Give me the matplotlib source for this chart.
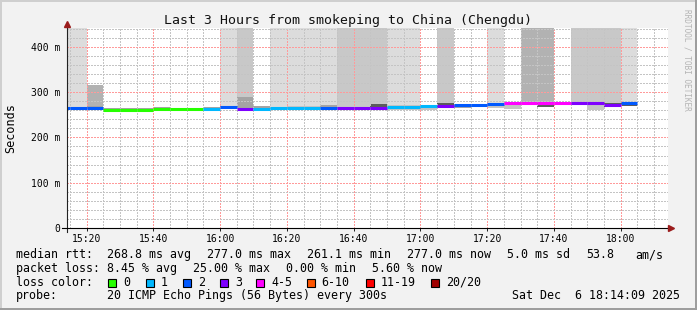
import matplotlib
matplotlib.use("Agg")
import matplotlib.pyplot as plt
from matplotlib.patches import Rectangle
from matplotlib.lines import Line2D
from matplotlib.ticker import MultipleLocator, FuncFormatter

plt.rcParams['font.family'] = ['DejaVu Sans Mono']

W, H = 697, 310

# --- данные: 5-минутные раунды (20 пингов каждый) ---
BIN_START = [
    "15:10", "15:15", "15:20", "15:25", "15:30", "15:35", "15:40", "15:45",
    "15:50", "15:55", "16:00", "16:05", "16:10", "16:15", "16:20", "16:25",
    "16:30", "16:35", "16:40", "16:45", "16:50", "16:55", "17:00", "17:05",
    "17:10", "17:15", "17:20", "17:25", "17:30", "17:35", "17:40", "17:45",
    "17:50", "17:55", "18:00",
]
# median rtt, ms
MEDIAN = [
    264, 264, 264, 261.1, 261.5, 261.5, 263.5, 263.5,
    263.5, 263.5, 266.5, 263.5, 263.5, 264, 264.5, 264.5,
    265, 264.5, 264.5, 265, 267, 268, 269, 269,
    270.5, 271.5, 273, 276, 276, 276, 276, 276.5,
    276.5, 271, 277,
]
# index into LOSS_LABELS (number of lost pings)
LOSS = [
    2, 2, 2, 0, 0, 0, 0, 0,
    0, 1, 2, 3, 1, 1, 1, 1,
    2, 3, 3, 3, 1, 1, 1, 3,
    2, 2, 2, 4, 4, 4, 4, 3,
    3, 3, 2,
]
# narrow smoke around the median, ms
BAND_LO = [
    262, 262, 262, 260, 260, 260, 262, 262,
    262, 262, 264, 262, 262, 262, 263, 263,
    263, 263, 263, 263, 261, 261, 261, 265,
    266, 267, 266, 263, 271, 268, 271, 271,
    261, 268, 270,
]
BAND_HI = [
    268, 268, 269, 266, 265, 265, 267, 266,
    266, 267, 270, 289, 270, 268, 270, 270,
    272, 268, 268, 273, 271, 272, 271, 275,
    274, 274, 276, 277, 278, 279, 278, 278,
    278, 277, 279,
]
BAND_TONE = [
    1, 1, 1, 1, 1, 1, 1, 1,
    1, 1, 1, 1, 1, 0, 0, 0,
    1, 1, 1, 2, 0, 0, 0, 2,
    1, 1, 0, 0, 1, 2, 0, 1,
    0, 2, 2,
]
# upper smoke (max ping), ms; 0 = none
SMOKE_TOP = [
    500, 500, 315, 0, 0, 0, 0, 0,
    0, 0, 500, 500, 0, 500, 500, 500,
    500, 500, 500, 500, 500, 500, 0, 500,
    0, 0, 500, 0, 500, 500, 0, 500,
    500, 500, 500,
]
SMOKE_SHADE = [
    1, 1, 3, 0, 0, 0, 0, 0,
    0, 0, 1, 2, 0, 1, 1, 1,
    1, 2, 2, 2, 1, 1, 0, 2,
    0, 0, 1, 0, 3, 3, 0, 2,
    2, 2, 1,
]
STEP = 5  # min

LOSS_LABELS = ["0", "1", "2", "3", "4-5", "6-10", "11-19", "20/20"]
LOSS_COLORS = ["#26ff00", "#00b8ff", "#0059ff", "#7e00ff",
               "#ff00ff", "#ff5500", "#ff0000", "#a10000"]

RTT_AVG, RTT_MAX, RTT_MIN, RTT_NOW, RTT_SD, AM_S = 268.8, 277.0, 261.1, 277.0, 5.0, 53.8
LOSS_AVG, LOSS_MAX, LOSS_MIN, LOSS_NOW = 8.45, 25.00, 0.00, 5.60

T_START, T_END = "15:14:09", "18:14:09"
TITLE = "Last 3 Hours from smokeping to China (Chengdu)"
PROBE = "20 ICMP Echo Pings (56 Bytes) every 300s"
STAMP = "Sat Dec  6 18:14:09 2025"


def tmin(s):
    p = s.split(":")
    sec = int(p[2]) if len(p) == 3 else 0
    return (int(p[0]) - 15) * 60 + int(p[1]) + sec / 60


def fx(x):
    return x / W


def fy(y):
    return 1 - y / H


SHADES = [None, "#dcdcdc", "#c8c8c8", "#b2b2b2"]
TONES = ["#c4c4c4", "#a4a4a4", "#5c5c5c"]

fig = plt.figure(figsize=(W / 100, H / 100), dpi=100, facecolor="#f2f2f2")
ax = fig.add_axes([fx(67), fy(228), (668 - 67) / W, 200 / H])
ax.set_facecolor("white")

x0 = [tmin(t) for t in BIN_START]

# smoke
idx = [i for i in range(len(x0)) if SMOKE_SHADE[i]]
ax.bar([x0[i] for i in idx], [SMOKE_TOP[i] - BAND_HI[i] for i in idx],
       bottom=[BAND_HI[i] for i in idx], width=STEP, align="edge",
       color=[SHADES[SMOKE_SHADE[i]] for i in idx], linewidth=0, zorder=1)
ax.bar(x0, [h - l for l, h in zip(BAND_LO, BAND_HI)], bottom=BAND_LO,
       width=STEP, align="edge", color=[TONES[t] for t in BAND_TONE],
       linewidth=0, zorder=1.5)

# median coloured by loss
ax.hlines(MEDIAN, x0, [x + STEP for x in x0],
          colors=[LOSS_COLORS[i] for i in LOSS], linewidth=2.2,
          capstyle="butt", zorder=4)

ax.set_xlim(tmin(T_START), tmin(T_END))
ax.set_ylim(0, 441.5)

ax.xaxis.set_major_locator(MultipleLocator(20))
ax.xaxis.set_minor_locator(MultipleLocator(5))
ax.xaxis.set_major_formatter(FuncFormatter(
    lambda v, p: f"{15 + int(v) // 60}:{int(v) % 60:02d}"))
ax.yaxis.set_major_locator(MultipleLocator(100))
ax.yaxis.set_minor_locator(MultipleLocator(20))
ax.yaxis.set_major_formatter(FuncFormatter(
    lambda v, p: "0" if v == 0 else f"{int(v)} m"))

ax.set_axisbelow(False)
ax.grid(which="minor", color="#c4c4c4", linestyle=(0, (1, 1)), linewidth=1.0,
        antialiased=False)
ax.grid(which="major", color="#ff9a9a", linestyle=(0, (1, 1)), linewidth=1.0,
        antialiased=False)

ax.tick_params(axis="x", which="major", length=2.2, width=0.72, pad=2,
               labelsize=7, color="#222222")
ax.tick_params(axis="y", which="major", length=0, pad=4.8, labelsize=7)
ax.tick_params(which="minor", length=0)
for s in ax.spines.values():
    s.set_visible(False)

# axes with arrows
fig.add_artist(Line2D([fx(67), fx(67)], [fy(232), fy(24)], color="#222222",
                      linewidth=0.8))
fig.add_artist(Line2D([fx(62), fx(670)], [fy(228), fy(228)], color="#000000",
                      linewidth=0.8))
fig.add_artist(Line2D([fx(67)], [fy(23.5)], marker="^", markersize=4,
                      color="#9b1c1c", linestyle="none"))
fig.add_artist(Line2D([fx(671)], [fy(228)], marker=">", markersize=4,
                      color="#9b1c1c", linestyle="none"))

fig.text(fx(348.5), fy(24.3), TITLE, ha="center", va="baseline", fontsize=9.5,
         color="#111111")
fig.text(fx(11), fy(128), "Seconds", rotation=90, ha="center", va="center",
         fontsize=8.5)
fig.text(fx(687.5), fy(60), "RRDTOOL / TOBI OETIKER", rotation=-90,
         ha="center", va="center", fontsize=5.6, color="#b4b4b4")

# legend
LF = 8.4
row1 = [(16, "median rtt:"),
        (107.3, f"{RTT_AVG:.1f} ms avg"), (207.3, f"{RTT_MAX:.1f} ms max"),
        (307.3, f"{RTT_MIN:.1f} ms min"), (407.3, f"{RTT_NOW:.1f} ms now"),
        (507.3, f"{RTT_SD:.1f} ms sd"), (586.3, f"{AM_S:.1f}"), (635, "am/s")]
row2 = [(16, "packet loss:"),
        (107.3, f"{LOSS_AVG:.2f} % avg"), (193.3, f"{LOSS_MAX:.2f} % max"),
        (286.3, f"{LOSS_MIN:.2f} % min"), (372, f"{LOSS_NOW:.2f} % now")]
for y, row in [(258.3, row1), (272.0, row2)]:
    for x, t in row:
        fig.text(fx(x), fy(y), t, ha="left", va="baseline", fontsize=LF)

fig.text(fx(16), fy(285.7), "loss color:", ha="left", va="baseline", fontsize=LF)
lab_x = [123.3, 160.7, 197.7, 235, 271, 321.7, 380.7, 445.7]
for lx, lab, col in zip(lab_x, LOSS_LABELS, LOSS_COLORS):
    fig.add_artist(Rectangle((fx(lx - 15), fy(286.5)), 8 / W, 8 / H,
                             transform=fig.transFigure, facecolor=col,
                             edgecolor="black", linewidth=0.8))
    fig.text(fx(lx), fy(285.7), lab, ha="left", va="baseline", fontsize=LF)

fig.text(fx(16), fy(299.3), "probe:", ha="left", va="baseline", fontsize=LF)
fig.text(fx(107.3), fy(299.3), PROBE, ha="left", va="baseline", fontsize=LF)
fig.text(fx(680), fy(299.3), STAMP, ha="right", va="baseline", fontsize=LF)

# 3d frame
for (x, y, w, h, c) in [(0, 0, W, 2, "#cfcfcf"), (0, 0, 2, H, "#cfcfcf"),
                        (0, H - 2, W, 2, "#9e9e9e"), (W - 2, 0, 2, H, "#9e9e9e")]:
    fig.add_artist(Rectangle((fx(x), fy(y + h)), w / W, h / H,
                             transform=fig.transFigure, facecolor=c,
                             linewidth=0))

fig.savefig("out.png", dpi=100, facecolor=fig.get_facecolor())
